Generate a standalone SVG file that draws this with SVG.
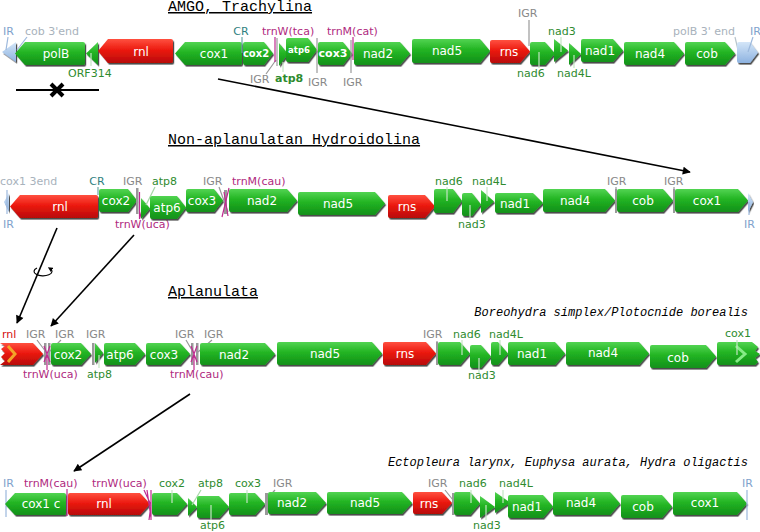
<svg xmlns="http://www.w3.org/2000/svg" width="760" height="532" viewBox="0 0 760 532">
<defs>
<linearGradient id="gG" x1="0" y1="0" x2="0" y2="1"><stop offset="0" stop-color="#52d452"/><stop offset="0.45" stop-color="#22b422"/><stop offset="1" stop-color="#12901a"/></linearGradient>
<linearGradient id="gR" x1="0" y1="0" x2="0" y2="1"><stop offset="0" stop-color="#ff5040"/><stop offset="0.45" stop-color="#ec1a10"/><stop offset="1" stop-color="#b80a06"/></linearGradient>
<linearGradient id="gB" x1="0" y1="0" x2="0" y2="1"><stop offset="0" stop-color="#d4e6f8"/><stop offset="1" stop-color="#8db2e0"/></linearGradient>
<filter id="sh" x="-10%" y="-20%" width="130%" height="150%"><feDropShadow dx="1.2" dy="1.6" stdDeviation="0.6" flood-color="#000" flood-opacity="0.7"/></filter>
<marker id="ah" viewBox="0 0 10 10" refX="9" refY="5" markerWidth="10" markerHeight="8" markerUnits="userSpaceOnUse" orient="auto"><path d="M0,0 L10,5 L0,10 Z" fill="#000"/></marker>
<marker id="ahs" viewBox="0 0 10 10" refX="5" refY="5" markerWidth="5" markerHeight="5" markerUnits="userSpaceOnUse" orient="auto"><path d="M0,0 L10,5 L0,10 Z" fill="#000"/></marker>
</defs>
<style>
.g{fill:url(#gG);filter:url(#sh)}
.r{fill:url(#gR);filter:url(#sh)}
.b{fill:url(#gB);filter:url(#sh)}
text{font-family:"DejaVu Sans","Liberation Sans",sans-serif}
.t{font-size:12px;fill:#fff;text-anchor:middle}
.tb{font-size:10px;font-weight:bold;fill:#fff;text-anchor:middle}
.l{font-size:11px}
.lg{fill:#2e8b2e}
.li{fill:#888}
.lm{fill:#b02a80}
.lc{fill:#2f7f80}
.lb{fill:#7fa2cc}
.lp{fill:#a8b2bc}
.title{font-family:"Liberation Mono",monospace;font-size:15px;fill:#000;text-decoration:underline}
.sp{font-family:"Liberation Mono",monospace;font-size:12px;font-style:italic;fill:#000}
.tk{stroke:#c4e4c4;stroke-width:1.2;fill:none}
.tg{stroke:#999;stroke-width:1.2;fill:none}
.bar{fill:#999}
.tm{stroke:#c02a90;stroke-width:1.2;fill:none}
.tb2{stroke:#9cb8dc;stroke-width:1.2;fill:none}
.con{stroke:#000;stroke-width:1.6;fill:none}
</style>

<!-- titles -->
<text class="title" x="168" y="11">AMGO, Trachylina</text>
<text class="title" x="168" y="144">Non-aplanulatan Hydroidolina</text>
<text class="title" x="168" y="296">Aplanulata</text>
<text class="sp" x="748" y="316" text-anchor="end">Boreohydra simplex/Plotocnide borealis</text>
<text class="sp" x="748" y="466" text-anchor="end">Ectopleura larynx, Euphysa aurata, Hydra oligactis</text>

<!-- connectors -->
<g id="connectors">
<line class="con" x1="218" y1="79" x2="690" y2="172" marker-end="url(#ah)"/>
<line class="con" x1="57" y1="228" x2="17" y2="323" marker-end="url(#ah)"/>
<line class="con" x1="134" y1="235" x2="51" y2="326" marker-end="url(#ah)"/>
<line class="con" x1="190" y1="394" x2="74" y2="471" marker-end="url(#ah)"/>
<path d="M37,268 A9,4.5 0 1,0 50,268.5" stroke="#000" stroke-width="1.2" fill="none" marker-end="url(#ahs)"/>
<line x1="16" y1="90" x2="99" y2="90" stroke="#000" stroke-width="2"/>
<path d="M51,84 L63,96 M63,84 L51,96" stroke="#000" stroke-width="4" stroke-linecap="butt"/>
</g>

<!-- ROW 1 -->
<g id="r1-IR-left"><polygon class="b" points="2,52 16,42 16,62"/><text class="l lb" x="3" y="35">IR</text><path class="tb2" d="M8,37 L6,50"/></g>
<g id="r1-cob3end"><text class="l lp" x="25" y="35">cob 3'end</text><path class="tb2" d="M27,37 L17,50" stroke="#b8c4cc"/></g>
<g id="r1-polB"><path class="g" d="M83,42 H25 L15,53.5 L25,65 H83 Q85,65 85,63 V44 Q85,42 83,42Z"/><text class="t" x="56" y="58">polB</text></g>
<g id="r1-ORF314"><polygon class="g" points="86,53.5 98,42 98,65"/><path class="tk" d="M91,53 V66"/><text class="l lg" x="68" y="77">ORF314</text></g>
<g id="r1-rnl"><path class="r" d="M171,39 H108 L98,51 L108,63 H171 Q173,63 173,61 V41 Q173,39 171,39Z"/><text class="t" x="141" y="56">rnl</text></g>
<g id="r1-cox1"><path class="g" d="M240,42 H185 L175,53.5 L185,65 H240 Q242,65 242,63 V44 Q242,42 240,42Z"/><text class="t" x="214" y="58">cox1</text></g>
<g id="r1-CR"><text class="l lc" x="241" y="35" text-anchor="middle">CR</text><path d="M242,37 V53" stroke="#6aa8a8" stroke-width="1.2"/></g>
<g id="r1-cox2"><path class="g" d="M245,42 H264 L273,53.5 L264,65 H245 Q243,65 243,63 V44 Q243,42 245,42Z"/><text class="tb" x="256" y="57">cox2</text></g>
<g id="r1-trnW"><path class="tg" d="M277,38 V66 M266,74 L276,60"/><path class="tm" d="M275,37 V62"/><text class="l lm" x="262" y="35">trnW(tca)</text><text class="l li" x="250" y="83">IGR</text></g>
<g id="r1-atp8"><polygon class="g" points="279,43 288,54 279,66"/><path class="tk" d="M283,62 V72"/><text class="l lg" x="275" y="82" font-weight="bold">atp8</text></g>
<g id="r1-atp6"><path class="g" d="M288,38 H308 L317,50 L308,62 H288 Q286,62 286,60 V40 Q286,38 288,38Z"/><text class="tb" x="299" y="53" style="font-size:8.5px">atp6</text></g>
<g id="r1-IGR1"><path class="tg" d="M317,38 V73"/><text class="l li" x="308" y="86">IGR</text></g>
<g id="r1-cox3"><path class="g" d="M320,42 H343 L352,53.5 L343,65 H320 Q318,65 318,63 V44 Q318,42 320,42Z"/><text class="tb" x="333" y="57" style="font-size:11px">cox3</text></g>
<g id="r1-trnM"><path class="tg" d="M351,40 V73"/><path class="tm" d="M353,37 V60"/><text class="l lm" x="327" y="35">trnM(cat)</text><text class="l li" x="343" y="86">IGR</text></g>
<g id="r1-nad2"><path class="g" d="M356,42 H400 L410,53.5 L400,65 H356 Q354,65 354,63 V44 Q354,42 356,42Z"/><text class="t" x="378" y="58">nad2</text></g>
<g id="r1-nad5"><path class="g" d="M414,39 H480 L490,51 L480,63 H414 Q412,63 412,61 V41 Q412,39 414,39Z"/><text class="t" x="447" y="55">nad5</text></g>
<g id="r1-rns"><path class="r" d="M492,40 H520 L530,51.5 L520,63 H492 Q490,63 490,61 V42 Q490,40 492,40Z"/><text class="t" x="509" y="56">rns</text></g>
<g id="r1-IGR2"><path class="tg" d="M529,20 V46"/><text class="l li" x="518" y="17">IGR</text></g>
<g id="r1-nad6"><path class="g" d="M532,42 H545 L555,53.5 L545,65 H532 Q530,65 530,63 V44 Q530,42 532,42Z"/><path class="tk" d="M539,52 V68"/><text class="l lg" x="517" y="77">nad6</text></g>
<g id="r1-nad3"><polygon class="g" points="554,39 568,50.5 554,62"/><path class="tk" d="M561,37 V52"/><text class="l lg" x="548" y="35">nad3</text></g>
<g id="r1-nad4L"><polygon class="g" points="569,43 581,54 569,65"/><path class="tk" d="M574,55 V68"/><text class="l lg" x="557" y="77">nad4L</text></g>
<g id="r1-nad1"><path class="g" d="M583,39 H613 L623,50.5 L613,62 H583 Q581,62 581,60 V41 Q581,39 583,39Z"/><text class="t" x="600" y="55">nad1</text></g>
<g id="r1-nad4"><path class="g" d="M626,42 H674 L684,53.5 L674,65 H626 Q624,65 624,63 V44 Q624,42 626,42Z"/><text class="t" x="650" y="58">nad4</text></g>
<g id="r1-cob"><path class="g" d="M687,42 H725 L735,53.5 L725,65 H687 Q685,65 685,63 V44 Q685,42 687,42Z"/><text class="t" x="707" y="58">cob</text></g>
<g id="r1-polB3"><text class="l lp" x="673" y="35">polB 3' end</text><path d="M735,37 L738,50" stroke="#b8c4cc" stroke-width="1.2"/></g>
<g id="r1-IR-right"><path class="b" d="M739,42 H750 L758,52.5 L750,63 H739 Q737,63 737,61 V44 Q737,42 739,42Z"/><path class="tb2" d="M753,37 L748,52"/><text class="l lb" x="750" y="35">IR</text></g>

<!-- ROW 2 -->
<g id="r2-IR-left"><polygon class="b" points="4,202 9,193 9,212"/><path class="tb2" d="M7,190 V214"/><text class="l lb" x="3" y="228">IR</text><text class="l lp" x="0" y="185">cox1 3end</text></g>
<g id="r2-rnl"><path class="r" d="M96,195 H20 L10,206.5 L20,218 H96 Q98,218 98,216 V197 Q98,195 96,195Z"/><text class="t" x="60" y="211">rnl</text></g>
<g id="r2-CR"><text class="l lc" x="97" y="185" text-anchor="middle">CR</text><path d="M98,187 V195" stroke="#6aa8a8" stroke-width="1.2"/></g>
<g id="r2-cox2"><path class="g" d="M101,189 H128 L137,200.5 L128,212 H101 Q99,212 99,210 V191 Q99,189 101,189Z"/><text class="t" x="116" y="205">cox2</text></g>
<g id="r2-trnW"><rect class="bar" x="136" y="188" width="2.5" height="26"/><path class="tm" d="M139.5,192 V219 M139.5,219 L142,210"/><text class="l li" x="123" y="185">IGR</text><text class="l lm" x="115" y="228">trnW(uca)</text></g>
<g id="r2-atp8"><polygon class="g" points="141,198 150,208.5 141,219"/><path d="M155,187 L146,205" stroke="#a8d8a8" stroke-width="1.2"/><text class="l lg" x="152" y="185">atp8</text></g>
<g id="r2-atp6"><path class="g" d="M152,196 H177 L186,207.5 L177,219 H152 Q150,219 150,217 V198 Q150,196 152,196Z"/><text class="t" x="167" y="212">atp6</text></g>
<g id="r2-cox3"><path class="g" d="M188,189 H214 L223,200.5 L214,212 H188 Q186,212 186,210 V191 Q186,189 188,189Z"/><text class="t" x="202" y="205">cox3</text></g>
<g id="r2-trnM"><rect class="bar" x="224" y="190" width="3" height="24"/><path class="tg" d="M219,187 L228,212"/><path class="tm" d="M229,188 L222,217 M224,192 L228,216"/><text class="l li" x="203" y="185">IGR</text><text class="l lm" x="232" y="185">trnM(cau)</text></g>
<g id="r2-nad2"><path class="g" d="M231,189 H287 L297,200.5 L287,212 H231 Q229,212 229,210 V191 Q229,189 231,189Z"/><text class="t" x="262" y="205">nad2</text></g>
<g id="r2-nad5"><path class="g" d="M300,192 H375 L385,203.5 L375,215 H300 Q298,215 298,213 V194 Q298,192 300,192Z"/><text class="t" x="338" y="208">nad5</text></g>
<g id="r2-rns"><path class="r" d="M390,195 H425 L435,206.5 L425,218 H390 Q388,218 388,216 V197 Q388,195 390,195Z"/><text class="t" x="407" y="211">rns</text></g>
<g id="r2-nad6"><path class="g" d="M436,189 H453 L462,201 L453,213 H436 Q434,213 434,211 V191 Q434,189 436,189Z"/><path class="tk" d="M447,187 V201"/><text class="l lg" x="435" y="185">nad6</text></g>
<g id="r2-nad3"><path class="g" d="M464,193 H472 L481,204.5 L472,216 H464 Q462,216 462,214 V195 Q462,193 464,193Z"/><path class="tk" d="M470,205 V220"/><text class="l lg" x="458" y="228">nad3</text></g>
<g id="r2-nad4L"><polygon class="g" points="481,190 494,201.5 481,213"/><path class="tk" d="M487,187 V201"/><text class="l lg" x="472" y="185">nad4L</text></g>
<g id="r2-nad1"><path class="g" d="M497,193 H533 L543,203 L533,213 H497 Q495,213 495,211 V195 Q495,193 497,193Z"/><text class="t" x="515" y="208">nad1</text></g>
<g id="r2-nad4"><path class="g" d="M545,189 H605 L615,200.5 L605,212 H545 Q543,212 543,210 V191 Q543,189 545,189Z"/><text class="t" x="575" y="205">nad4</text></g>
<g id="r2-IGR1"><rect class="bar" x="615" y="189" width="2" height="24"/><path class="tg" d="M616,187 V190"/><text class="l li" x="607" y="185">IGR</text></g>
<g id="r2-cob"><path class="g" d="M619,189 H663 L673,200.5 L663,212 H619 Q617,212 617,210 V191 Q617,189 619,189Z"/><text class="t" x="643" y="205">cob</text></g>
<g id="r2-IGR2"><rect class="bar" x="673" y="189" width="2" height="24"/><path class="tg" d="M674,187 V190"/><text class="l li" x="664" y="185">IGR</text></g>
<g id="r2-cox1"><path class="g" d="M677,189 H738 L748,200.5 L738,212 H677 Q675,212 675,210 V191 Q675,189 677,189Z"/><text class="t" x="707" y="205">cox1</text></g>
<g id="r2-IR-right"><polygon class="b" points="748,193 753,202 748,212"/><path class="tb2" d="M749,202 V215"/><text class="l lb" x="744" y="228">IR</text></g>

<!-- ROW 3 -->
<g id="r3-rnl"><path class="r" d="M0,343 H33 L43,354 L33,365 H0 L5,361 L1,357 L5,353 L1,349 L5,346 Z"/><polyline points="8,346 15,354 8,362" stroke="#f4a428" stroke-width="3" fill="none"/><text class="l" x="2" y="338" fill="#d41010">rnl</text></g>
<g id="r3-trnW"><rect class="bar" x="44" y="343" width="2.5" height="22"/><rect class="bar" x="48" y="343" width="2.5" height="22"/><path class="tg" d="M37,340 L46,352 M61,340 L49,352"/><path class="tm" d="M44,346 L50,362 M50,346 L44,362 M47,352 V370"/><text class="l li" x="26" y="338">IGR</text><text class="l li" x="55" y="338">IGR</text><text class="l lm" x="23" y="378">trnW(uca)</text></g>
<g id="r3-cox2"><path class="g" d="M53,343 H81 L91,354 L81,365 H53 Q51,365 51,363 V345 Q51,343 53,343Z"/><text class="t" x="68" y="359">cox2</text></g>
<g id="r3-IGR1"><rect class="bar" x="92" y="343" width="2.5" height="22"/><text class="l li" x="86" y="338">IGR</text></g>
<g id="r3-atp8"><polygon class="g" points="95,343 103,353 95,363"/><path class="tk" d="M99,355 V368"/><text class="l lg" x="87" y="378">atp8</text></g>
<g id="r3-atp6"><path class="g" d="M106,343 H135 L145,354 L135,365 H106 Q104,365 104,363 V345 Q104,343 106,343Z"/><text class="t" x="120" y="359">atp6</text></g>
<g id="r3-cox3"><path class="g" d="M148,343 H180 L190,354 L180,365 H148 Q146,365 146,363 V345 Q146,343 148,343Z"/><text class="t" x="164" y="359">cox3</text></g>
<g id="r3-trnM"><rect class="bar" x="191" y="343" width="2.5" height="22"/><rect class="bar" x="196" y="343" width="2.5" height="22"/><path class="tg" d="M186,340 L193,352 M212,340 L198,352"/><path class="tm" d="M191,346 L197,362 M197,346 L191,362 M194,352 V370"/><text class="l li" x="175" y="338">IGR</text><text class="l li" x="204" y="338">IGR</text><text class="l lm" x="170" y="378">trnM(cau)</text></g>
<g id="r3-nad2"><path class="g" d="M202,343 H265 L275,354 L265,365 H202 Q200,365 200,363 V345 Q200,343 202,343Z"/><text class="t" x="234" y="359">nad2</text></g>
<g id="r3-nad5"><path class="g" d="M279,342 H372 L382,353.5 L372,365 H279 Q277,365 277,363 V344 Q277,342 279,342Z"/><text class="t" x="325" y="358">nad5</text></g>
<g id="r3-rns"><path class="r" d="M385,342 H426 L436,353.5 L426,365 H385 Q383,365 383,363 V344 Q383,342 385,342Z"/><text class="t" x="405" y="358">rns</text></g>
<g id="r3-IGR2"><rect class="bar" x="436" y="342" width="2" height="23"/><path class="tg" d="M437,341 V346"/><text class="l li" x="423" y="338">IGR</text></g>
<g id="r3-nad6"><path class="g" d="M440,342 H460 L470,353.5 L460,365 H440 Q438,365 438,363 V344 Q438,342 440,342Z"/><path class="tk" d="M462,340 V355"/><text class="l lg" x="453" y="338">nad6</text></g>
<g id="r3-nad3"><path class="g" d="M472,345 H481 L491,356.5 L481,368 H472 Q470,368 470,366 V347 Q470,345 472,345Z"/><path class="tk" d="M479,358 V374"/><text class="l lg" x="468" y="379">nad3</text></g>
<g id="r3-nad4L"><path class="g" d="M493,342 H498 L508,353.5 L498,365 H493 Q491,365 491,363 V344 Q491,342 493,342Z"/><path class="tk" d="M500,340 V355"/><text class="l lg" x="489" y="338">nad4L</text></g>
<g id="r3-nad1"><path class="g" d="M510,342 H555 L565,353.5 L555,365 H510 Q508,365 508,363 V344 Q508,342 510,342Z"/><text class="t" x="532" y="358">nad1</text></g>
<g id="r3-nad4"><path class="g" d="M568,342 H639 L649,353.5 L639,365 H568 Q566,365 566,363 V344 Q566,342 568,342Z"/><text class="t" x="603" y="357">nad4</text></g>
<g id="r3-cob"><path class="g" d="M652,345 H706 L716,356.5 L706,368 H652 Q650,368 650,366 V347 Q650,345 652,345Z"/><text class="t" x="678" y="362">cob</text></g>
<g id="r3-cox1"><path class="g" d="M719,342 H752 L758,347 L755,351 L760,354 L755,358 L758,362 L755,365 H719 Q717,365 717,363 V344 Q717,342 719,342Z"/><polyline points="736,346 745,354 736,362" stroke="#86ec86" stroke-width="3" fill="none"/><path class="tk" d="M737,340 V355"/><text class="l lg" x="725" y="337">cox1</text></g>

<!-- ROW 4 -->
<g id="r4-IR-left"><path class="tb2" d="M6,490 V517 M6,504 L9,500"/><text class="l lb" x="3" y="487">IR</text></g>
<g id="r4-cox1c"><path class="g" d="M64,493 H15 L5,504 L15,515 H64 Q66,515 66,513 V495 Q66,493 64,493Z"/><text class="t" x="41" y="508">cox1 c</text></g>
<g id="r4-trnM"><path class="tm" d="M67,489 V516"/><text class="l lm" x="24" y="487">trnM(cau)</text></g>
<g id="r4-rnl"><path class="r" d="M70,493 H140 L150,504 L140,515 H70 Q68,515 68,513 V495 Q68,493 70,493Z"/><text class="t" x="104" y="508">rnl</text></g>
<g id="r4-trnW"><path class="tm" d="M144,490 L151,505 M147,490 L151,518 M151,490 V520 M151,505 L149,520"/><text class="l lm" x="92" y="487">trnW(uca)</text></g>
<g id="r4-cox2"><path class="g" d="M154,493 H177 L187,504 L177,515 H154 Q152,515 152,513 V495 Q152,493 154,493Z"/><path class="tk" d="M172,490 V503"/><text class="l lg" x="159" y="487">cox2</text></g>
<g id="r4-atp8"><polygon class="g" points="188,498 197,507 188,516"/><path d="M201,490 L192,505" stroke="#a8d8a8" stroke-width="1.2"/><text class="l lg" x="198" y="487">atp8</text></g>
<g id="r4-atp6"><path class="g" d="M199,496 H219 L229,507 L219,518 H199 Q197,518 197,516 V498 Q197,496 199,496Z"/><path class="tk" d="M211,505 V520"/><text class="l lg" x="200" y="529">atp6</text></g>
<g id="r4-cox3"><path class="g" d="M231,493 H255 L265,504 L255,515 H231 Q229,515 229,513 V495 Q229,493 231,493Z"/><path class="tk" d="M247,490 V503"/><text class="l lg" x="235" y="487">cox3</text></g>
<g id="r4-IGR1"><rect class="bar" x="265" y="493" width="3" height="22"/><path class="tg" d="M275,490 L266,500"/><text class="l li" x="273" y="487">IGR</text></g>
<g id="r4-nad2"><path class="g" d="M270,492 H316 L326,503 L316,514 H270 Q268,514 268,512 V494 Q268,492 270,492Z"/><text class="t" x="292" y="507">nad2</text></g>
<g id="r4-nad5"><path class="g" d="M329,492 H402 L412,503 L402,514 H329 Q327,514 327,512 V494 Q327,492 329,492Z"/><text class="t" x="365" y="507">nad5</text></g>
<g id="r4-rns"><path class="r" d="M415,492 H442 L452,503 L442,514 H415 Q413,514 413,512 V494 Q413,492 415,492Z"/><text class="t" x="429" y="508">rns</text></g>
<g id="r4-IGR2"><rect class="bar" x="452" y="493" width="2.5" height="22"/><path class="tg" d="M445,490 L453,500"/><text class="l li" x="428" y="487">IGR</text></g>
<g id="r4-nad6"><path class="g" d="M456,492 H470 L480,503.5 L470,515 H456 Q454,515 454,513 V494 Q454,492 456,492Z"/><path class="tk" d="M471,490 V503"/><text class="l lg" x="459" y="487">nad6</text></g>
<g id="r4-nad3"><polygon class="g" points="480,496 495,507 480,518"/><path class="tk" d="M486,505 V520"/><text class="l lg" x="473" y="529">nad3</text></g>
<g id="r4-nad4L"><polygon class="g" points="495,492 510,502.5 495,513"/><path class="tk" d="M503,490 V503"/><text class="l lg" x="499" y="487">nad4L</text></g>
<g id="r4-nad1"><path class="g" d="M510,495 H543 L553,506.5 L543,518 H510 Q508,518 508,516 V497 Q508,495 510,495Z"/><text class="t" x="527" y="511">nad1</text></g>
<g id="r4-nad4"><path class="g" d="M555,492 H610 L620,503.5 L610,515 H555 Q553,515 553,513 V494 Q553,492 555,492Z"/><text class="t" x="581" y="507">nad4</text></g>
<g id="r4-cob"><path class="g" d="M623,495 H662 L672,506.5 L662,518 H623 Q621,518 621,516 V497 Q621,495 623,495Z"/><text class="t" x="643" y="511">cob</text></g>
<g id="r4-cox1"><path class="g" d="M675,492 H737 L747,503.5 L737,515 H675 Q673,515 673,513 V494 Q673,492 675,492Z"/><text class="t" x="705" y="507">cox1</text></g>
<g id="r4-IR-right"><path class="tb2" d="M747,490 V520"/><text class="l lb" x="742" y="487">IR</text></g>
</svg>
